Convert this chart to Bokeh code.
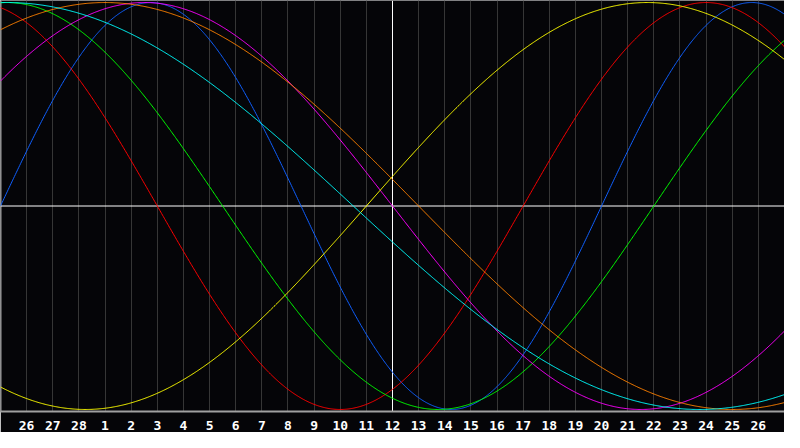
import numpy as np
from bokeh.plotting import figure
from bokeh.models import FixedTicker, Span
from bokeh.embed import file_html
from bokeh.resources import INLINE

# ---- data ----
day_labels = ["26", "27", "28", "1", "2", "3", "4", "5", "6", "7", "8", "9", "10", "11",
              "12", "13", "14", "15", "16", "17", "18", "19", "20", "21", "22", "23",
              "24", "25", "26"]
day_offsets = list(range(-14, 15))          # days relative to the centre day (12)
cycle_periods = [23, 28, 33, 38, 43, 48, 53]  # cycle lengths in days
cycle_colors = ["#1060ff", "#ff0000", "#00ff00", "#ff00ff", "#ffff00", "#ff8000", "#00ffff"]
days_since_birth_at_centre = 40679

p = figure(frame_width=784, frame_height=411, x_range=(-15, 15), y_range=(-1.01, 1.01),
           output_backend="svg", toolbar_location=None,
           background_fill_color="#050508", border_fill_color="#050508",
           min_border=0, min_border_left=0, min_border_right=0, min_border_top=0)
p.outline_line_color = None

p.xaxis.ticker = FixedTicker(ticks=day_offsets)
p.xaxis.major_label_overrides = {d: l for d, l in zip(day_offsets, day_labels)}
p.xaxis.axis_line_color = "#a0a0a0"
p.xaxis.axis_line_width = 2
p.xaxis.major_tick_line_color = None
p.xaxis.minor_tick_line_color = None
p.xaxis.major_label_text_color = "white"
p.xaxis.major_label_text_font = "DejaVu Sans Mono"
p.xaxis.major_label_text_font_style = "bold"
p.xaxis.major_label_text_font_size = "13px"
p.xaxis.major_label_standoff = 3
p.yaxis.visible = False

p.xgrid.ticker = FixedTicker(ticks=day_offsets)
p.xgrid.grid_line_color = "#363636"
p.ygrid.grid_line_color = None

p.add_layout(Span(location=-15, dimension="height", line_color="#a0a0a0", line_width=2, level="underlay"))
p.add_layout(Span(location=0, dimension="height", line_color="white", line_width=1, level="underlay"))
p.add_layout(Span(location=0, dimension="width", line_color="white", line_width=1, level="underlay"))

t = np.linspace(-15, 15, 901)
for period, color in zip(cycle_periods, cycle_colors):
    y = np.sin(2 * np.pi * (days_since_birth_at_centre + t) / period)
    p.line(t, y, line_color=color, line_width=1)

open("out.html", "w").write(file_html(p, INLINE))
